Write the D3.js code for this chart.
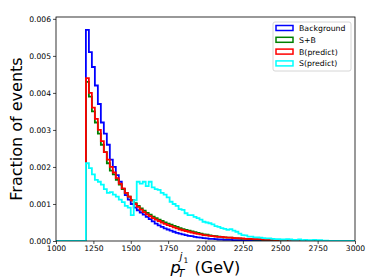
<!DOCTYPE html>
<html>
<head>
<meta charset="utf-8">
<script src="https://cdn.jsdelivr.net/npm/d3@7"></script>
<style>
  body { margin: 0; background: #fff; }
  text { font-family: "DejaVu Sans", sans-serif; fill: #000; }
</style>
</head>
<body>
<svg id="chart" width="374" height="280"></svg>
<script>
// bin edges 1000..3000 GeV, 20 GeV wide
const binStart = 1000, binEnd = 3000, binWidth = 20;
const xTicks = [1000, 1250, 1500, 1750, 2000, 2250, 2500, 2750, 3000];
const yTicks = [0, 0.001, 0.002, 0.003, 0.004, 0.005, 0.006];
const seriesNames = ["Background", "S+B", "B(predict)", "S(predict)"];
const seriesColors = ["blue", "green", "red", "cyan"];

const background = [
  0,0,0,0,0,0,0,0,0,0,
  0.0057,0.0051,0.0047,0.0042,0.0037,0.0032,0.0029,0.0026,0.0022,0.0020,
  0.00178,0.0016,0.0014,0.00124,0.00112,0.001,0.0009,0.00083,0.00077,0.00071,
  0.00065,0.00059,0.00053,0.00047,0.00042,0.00038,0.00034,0.00031,0.00028,0.00025,
  0.00022,0.0002,0.00018,0.00016,0.00014,0.00013,0.00011,0.0001,0.00009,0.00008,
  0.00007,0.00006,0.00006,0.00005,0.00004,0.00004,0.00003,0.00003,0.00003,0.00002,
  0.00002,0.00002,0.00001,0.00001,0.00001,0.00001,0,0,0,0,
  0,0,0,0,0,0,0,0,0,0,
  0,0,0,0,0,0,0,0,0,0,
  0,0,0,0,0,0,0,0,0,0
];
const sPlusB = [
  0,0,0,0,0,0,0,0,0,0,
  0.0043,0.0039,0.0035,0.0032,0.0029,0.0026,0.0024,0.0021,0.0019,0.0018,
  0.00165,0.00152,0.0014,0.0013,0.0012,0.0011,0.00102,0.00095,0.00088,0.00082,
  0.00076,0.00071,0.00066,0.00062,0.00058,0.00054,0.0005,0.00047,0.00044,0.00041,
  0.00038,0.00035,0.00032,0.0003,0.00028,0.00026,0.00024,0.00022,0.0002,0.00018,
  0.00017,0.00015,0.00014,0.00013,0.00012,0.00011,0.0001,0.00009,0.00009,0.00008,
  0.00007,0.00007,0.00006,0.00006,0.00005,0.00005,0.00004,0.00004,0.00004,0.00003,
  0.00003,0.00003,0.00003,0.00002,0.00002,0.00002,0.00002,0.00001,0.00001,0,
  0,0,0,0,0,0,0,0,0,0,
  0,0,0,0,0,0,0,0,0,0
];
const bPredict = [
  0,0,0,0,0,0,0,0,0,0,
  0.0044,0.0040,0.0036,0.0033,0.0030,0.0027,0.0024,0.0022,0.0020,0.00185,
  0.0017,0.00155,0.00142,0.0013,0.0012,0.0011,0.001,0.00092,0.00085,0.00078,
  0.00072,0.00067,0.00062,0.00058,0.00054,0.0005,0.00046,0.00043,0.0004,0.00037,
  0.00034,0.00031,0.00029,0.00027,0.00025,0.00023,0.00021,0.00019,0.00018,0.00016,
  0.00015,0.00014,0.00013,0.00012,0.00011,0.00011,0.0001,0.00009,0.00009,0.00008,
  0.00008,0.00007,0.00007,0.00006,0.00006,0.00006,0.00005,0.00005,0.00005,0.00004,
  0.00004,0.00004,0.00004,0.00003,0.00003,0.00003,0.00003,0.00003,0.00002,0,
  0,0,0,0,0,0,0,0,0,0,
  0,0,0,0,0,0,0,0,0,0
];
const sPredict = [
  0,0,0,0,0,0,0,0,0,0,
  0.0021,0.00197,0.0018,0.00165,0.0016,0.00152,0.0014,0.0013,0.00132,0.00125,
  0.0012,0.00112,0.00105,0.00095,0.0009,0.0007,0.0011,0.0016,0.00155,0.0016,
  0.00148,0.0016,0.00145,0.0014,0.00138,0.0013,0.00125,0.00118,0.00106,0.001,
  0.00095,0.00086,0.00084,0.00075,0.0007,0.0007,0.00065,0.00062,0.00058,0.00052,
  0.0005,0.00048,0.00045,0.0004,0.00038,0.00035,0.00033,0.0003,0.00032,0.00028,
  0.00025,0.0002,0.00016,0.00015,0.00012,0.00012,0.0001,0.0001,0.00009,0.00008,
  0.00007,0.00007,0.00006,0.00005,0.00005,0.00004,0.00004,0.00005,0.00004,0.00003,
  0.00003,0.00004,0.00002,0.00003,0.00002,0.00002,0.00003,0.00002,0.00002,0.00001,
  0.00001,0,0,0,0,0,0,0,0,0
];
const seriesValues = [background, sPlusB, bPredict, sPredict];

const svg = d3.select("#chart");
const margin = {top: 17, right: 19, bottom: 39, left: 56};
const width = 374 - margin.left - margin.right;
const height = 280 - margin.top - margin.bottom;
const g = svg.append("g")
  .attr("transform", `translate(${margin.left},${margin.top})`);

const x = d3.scaleLinear().domain([binStart, binEnd]).range([0, width]);
const y = d3.scaleLinear().domain([0, 0.00605]).range([height, 0]);

g.append("clipPath").attr("id", "clip")
  .append("rect").attr("width", width).attr("height", height);

// step histograms
const edges = d3.range(binStart, binEnd + binWidth / 2, binWidth);
const line = d3.line().x(d => x(d[0])).y(d => y(d[1]));
seriesValues.forEach((vals, i) => {
  const pts = [[edges[0], 0]];
  vals.forEach((v, j) => { pts.push([edges[j], v]); pts.push([edges[j + 1], v]); });
  pts.push([edges[vals.length], 0]);
  g.append("path")
    .attr("clip-path", "url(#clip)")
    .attr("d", line(pts))
    .attr("fill", "none")
    .attr("stroke", seriesColors[i])
    .attr("stroke-width", 1.8)
    .attr("stroke-linejoin", "miter");
});

// axes
const xAxis = g.append("g")
  .attr("transform", `translate(0,${height})`)
  .call(d3.axisBottom(x).tickValues(xTicks).tickSize(3).tickPadding(2).tickFormat(d3.format("d")));
const yAxis = g.append("g")
  .call(d3.axisLeft(y).tickValues(yTicks).tickSize(3).tickPadding(2).tickFormat(d3.format(".3f")));
[xAxis, yAxis].forEach(a => {
  a.select(".domain").remove();
  a.selectAll("text").style("font-family", "DejaVu Sans").style("font-size", "7.6px");
  a.selectAll("line").attr("stroke", "#000").attr("stroke-width", 0.7);
});

g.append("rect")
  .attr("width", width).attr("height", height)
  .attr("fill", "none").attr("stroke", "#000").attr("stroke-width", 0.8);

// legend
const leg = g.append("g").attr("transform", `translate(${width - 82},${5})`);
leg.append("rect")
  .attr("width", 78).attr("height", 49).attr("rx", 2)
  .attr("fill", "#fff").attr("fill-opacity", 0.8)
  .attr("stroke", "#ccc").attr("stroke-width", 0.8);
seriesNames.forEach((name, i) => {
  const row = leg.append("g").attr("transform", `translate(3,${3.5 + i * 11.8})`);
  row.append("rect")
    .attr("width", 17).attr("height", 5)
    .attr("fill", "none").attr("stroke", seriesColors[i]).attr("stroke-width", 1.5);
  row.append("text")
    .attr("x", 23).attr("y", 5.5)
    .style("font-size", "7.8px")
    .text(name);
});

// axis labels
svg.append("text")
  .attr("transform", `translate(22,${margin.top + height / 2}) rotate(-90)`)
  .attr("text-anchor", "middle")
  .style("font-size", "16px")
  .text("Fraction of events");

const cx = margin.left + width / 2;
const by = 272.5;
const xl = svg.append("g").attr("transform", `translate(${cx - 35},${by})`);
xl.append("text").attr("x", 0).attr("y", 0)
  .style("font-size", "16px").style("font-style", "italic").text("p");
xl.append("text").attr("x", 9).attr("y", -12.5)
  .style("font-size", "10.5px").style("font-style", "italic").text("j");
xl.append("text").attr("x", 13).attr("y", -10)
  .style("font-size", "7.5px").text("1");
xl.append("text").attr("x", 7.5).attr("y", 4.5)
  .style("font-size", "10.5px").style("font-style", "italic").text("T");
xl.append("text").attr("x", 24).attr("y", 0)
  .style("font-size", "16px").text("(GeV)");
</script>
</body>
</html>
